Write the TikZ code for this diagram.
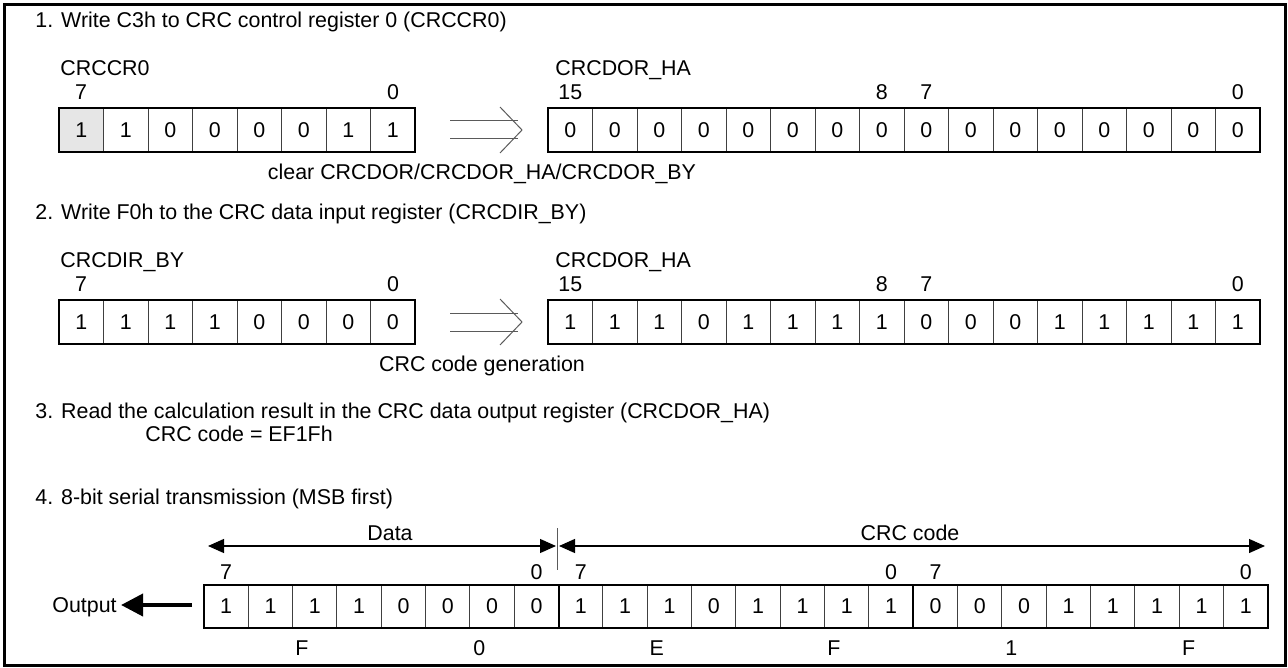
\documentclass[tikz,border=0pt]{standalone}
\usepackage{fontspec}
\setmainfont{Liberation Sans}
\usetikzlibrary{calc}
\usetikzlibrary{arrows.meta}
\definecolor{cellgray}{RGB}{230,230,230}
\definecolor{rule}{RGB}{90,90,90}

\begin{document}
\begin{tikzpicture}[x=0.5pt, y=-0.5pt,
    every node/.style={font=\fontsize{10.7}{12}\selectfont, inner sep=0pt, text depth=0pt},
    cellline/.style={black!75, line width=0.5pt},
    regline/.style={black, line width=1pt},
    dbl/.style={rule, line width=0.5pt},
    span/.style={line width=0.6pt, {Triangle[length=8pt,width=7pt]}-{Triangle[length=8pt,width=7pt]}, black},
    outarrow/.style={black, line width=2pt, -{Triangle[length=11pt,width=11pt]}}]
    \useasboundingbox (0,0) rectangle (1288,668);
    \draw[line width=1.5pt] (4,5) rectangle (1285,665);

    % 1. write C3h
    \node[anchor=west] (t1) at (35,20) {1. Write C3h to CRC control register 0 (CRCCR0)};
    \node[anchor=west] (ccr) at (60,68) {CRCCR0};
    \node (ccr7) at (81,92) {7};
    \node (ccr0) at (393,92) {0};
    \fill[cellgray] (59,108) rectangle ++(44.5,44);
    \foreach \b [count=\j from 0] in {1,1,0,0,0,0,1,1} {
        \draw[cellline] ({59+44.5*\j},108) rectangle ++(44.5,44);
        \node (ra\j) at ({81.25+44.5*\j},130) {\b};
    }
    \draw[regline] (59,108) rectangle (415,152);
    \node[anchor=west] (dora) at (555,68) {CRCDOR\_HA};
    \node (dora15) at (570.25,92) {15};
    \node (dora8) at (881.75,92) {8};
    \node (dora7) at (926.25,92) {7};
    \node (dora0) at (1237.75,92) {0};
    \foreach \b [count=\j from 0] in {0,0,0,0,0,0,0,0,0,0,0,0,0,0,0,0} {
        \draw[cellline] ({548+44.5*\j},108) rectangle ++(44.5,44);
        \node (rb\j) at ({570.25+44.5*\j},130) {\b};
    }
    \draw[regline] (548,108) rectangle (1260,152);
    \coordinate (a1) at (450,130);
    \coordinate (b1) at (522,130);
    \draw[dbl] ($(a1)+(0,-9)$) -- ($(b1)+(-4,-9)$) ($(a1)+(0,9)$) -- ($(b1)+(-4,9)$);
    \draw[dbl] ($(b1)+(-22,-23)$) -- (b1) -- ($(b1)+(-22,23)$);
    \node (n1) at (482,172) {clear CRCDOR/CRCDOR\_HA/CRCDOR\_BY};

    % 2. write F0h
    \node[anchor=west] (t2) at (35,212) {2. Write F0h to the CRC data input register (CRCDIR\_BY)};
    \node[anchor=west] (dir) at (60,260) {CRCDIR\_BY};
    \node (dir7) at (81,284) {7};
    \node (dir0) at (393,284) {0};
    \foreach \b [count=\j from 0] in {1,1,1,1,0,0,0,0} {
        \draw[cellline] ({59+44.5*\j},300) rectangle ++(44.5,44);
        \node (rc\j) at ({81.25+44.5*\j},322) {\b};
    }
    \draw[regline] (59,300) rectangle (415,344);
    \node[anchor=west] (dorb) at (555,260) {CRCDOR\_HA};
    \node (dorb15) at (570.25,284) {15};
    \node (dorb8) at (881.75,284) {8};
    \node (dorb7) at (926.25,284) {7};
    \node (dorb0) at (1237.75,284) {0};
    \foreach \b [count=\j from 0] in {1,1,1,0,1,1,1,1,0,0,0,1,1,1,1,1} {
        \draw[cellline] ({548+44.5*\j},300) rectangle ++(44.5,44);
        \node (rd\j) at ({570.25+44.5*\j},322) {\b};
    }
    \draw[regline] (548,300) rectangle (1260,344);
    \coordinate (a2) at (450,322);
    \coordinate (b2) at (522,322);
    \draw[dbl] ($(a2)+(0,-9)$) -- ($(b2)+(-4,-9)$) ($(a2)+(0,9)$) -- ($(b2)+(-4,9)$);
    \draw[dbl] ($(b2)+(-22,-23)$) -- (b2) -- ($(b2)+(-22,23)$);
    \node (n2) at (482,364) {CRC code generation};

    % 3. read result
    \node[anchor=west] (t3) at (35,411) {3. Read the calculation result in the CRC data output register (CRCDOR\_HA)};
    \node[anchor=west] (res) at (145,434) {CRC code = EF1Fh};

    % 4. serial transmission
    \node[anchor=west] (t4) at (35,497) {4. 8-bit serial transmission (MSB first)};
    \coordinate (dl) at (208,546);
    \coordinate (dr) at (556,546);
    \coordinate (cl) at (559,546);
    \coordinate (cr) at (1265,546);
    \coordinate (sp1) at (557.5,528);
    \coordinate (sp2) at (557.5,570);
    \draw[span] (dl) -- (dr);
    \draw[span] (cl) -- (cr);
    \draw[rule, line width=0.5pt] (sp1) -- (sp2);
    \node (data) at (390,533) {Data};
    \node (crc) at (910,533) {CRC code};
    \foreach \lab/\c in {7/0, 0/7, 7/8, 0/15, 7/16, 0/23} {
        \node (bit\c) at ({226.17+44.33*\c},572) {\lab};
    }
    \foreach \b [count=\j from 0] in {1,1,1,1,0,0,0,0,1,1,1,0,1,1,1,1,0,0,0,1,1,1,1,1} {
        \draw[cellline] ({204+44.33*\j},585) rectangle ++(44.33,43);
        \node (re\j) at ({226.17+44.33*\j},606.5) {\b};
    }
    \draw[regline] (204,585) rectangle (1268,628);
    \draw[regline] (558.67,585) -- (558.67,628) (913.33,585) -- (913.33,628);
    \foreach \nib [count=\g from 0] in {F,0,E,F,1,F} {
        \node (nb\g) at ({302+177.33*\g},648) {\nib};
    }
    \node[anchor=west] (out) at (52,605) {Output};
    \coordinate (os) at (192,605);
    \draw[outarrow] (os) -- ([xshift=2pt]out.east);
\end{tikzpicture}
\end{document}
